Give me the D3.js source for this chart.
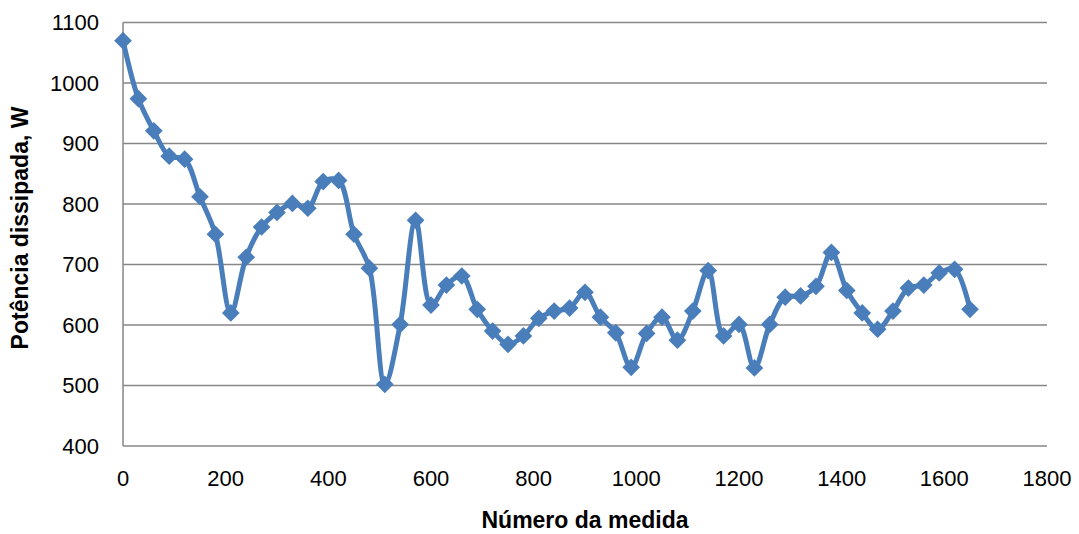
<!DOCTYPE html>
<html><head><meta charset="utf-8">
<script src="https://cdn.jsdelivr.net/npm/d3@7"></script>
<style>html,body{margin:0;padding:0;background:#fff;}</style>
</head><body>
<svg id="c" width="1079" height="534"></svg>
<script>
const xValues = [0,30,60,90,120,150,180,210,240,270,300,330,360,390,420,450,480,510,540,570,600,630,660,690,720,750,780,810,840,870,900,930,960,990,1020,1050,1080,1110,1140,1170,1200,1230,1260,1290,1320,1350,1380,1410,1440,1470,1500,1530,1560,1590,1620,1650];
const powerValues = [1070,974,921,879,874,812,750,620,712,762,786,801,793,837,839,750,694,502,601,773,633,666,681,626,590,568,582,611,623,628,654,613,587,530,586,613,575,623,690,582,601,529,601,646,648,664,720,657,620,593,623,661,666,686,692,626];
const xTicks = [0,200,400,600,800,1000,1200,1400,1600,1800];
const yTicks = [400,500,600,700,800,900,1000,1100];
const xTitle = "Número da medida";
const yTitle = "Potência dissipada, W";

const svg = d3.select("#c");
const L = 123, R = 1047, T = 22.5, B = 446;
const x = d3.scaleLinear().domain([0,1800]).range([L,R]);
const y = d3.scaleLinear().domain([400,1100]).range([B,T]);
const font = "'Liberation Sans',Arial,sans-serif";
const grey = "#868686";

svg.append("g").selectAll("line").data(yTicks).join("line")
  .attr("x1",L).attr("x2",R).attr("y1",d=>y(d)).attr("y2",d=>y(d))
  .attr("stroke",grey).attr("stroke-width",1.5);
svg.append("line").attr("x1",L).attr("x2",L).attr("y1",T).attr("y2",B)
  .attr("stroke",grey).attr("stroke-width",1.5);

svg.append("g").selectAll("text").data(yTicks).join("text")
  .attr("x",L-24).attr("y",d=>y(d)).attr("dy","0.35em").attr("text-anchor","end")
  .style("font-family",font).style("font-size","22px").attr("fill","#000").text(d=>d);
svg.append("g").selectAll("text").data(xTicks).join("text")
  .attr("x",d=>x(d)).attr("y",B+32).attr("dy","0.35em").attr("text-anchor","middle")
  .style("font-family",font).style("font-size","22px").attr("fill","#000").text(d=>d);

svg.append("text").attr("x",585).attr("y",520).attr("dy","0.35em").attr("text-anchor","middle")
  .style("font-family",font).style("font-size","23px").style("font-weight","bold").text(xTitle);
svg.append("text").attr("transform",`translate(20,228) rotate(-90)`).attr("dy","0.35em").attr("text-anchor","middle")
  .style("font-family",font).style("font-size","23px").style("font-weight","bold").text(yTitle);

const data = xValues.map((v,i)=>[v,powerValues[i]]);
const blue = "#4a7ebb";
svg.append("path").datum(data)
  .attr("d", d3.line().x(d=>x(d[0])).y(d=>y(d[1])).curve(d3.curveCatmullRom.alpha(0.5)))
  .attr("fill","none").attr("stroke",blue).attr("stroke-width",5).attr("stroke-linejoin","round");
svg.append("g").selectAll("path").data(data).join("path")
  .attr("d", d3.symbol().type(d3.symbolDiamond2).size(200)())
  .attr("transform",d=>`translate(${x(d[0])},${y(d[1])})`)
  .attr("fill",blue);
</script>
</body></html>
